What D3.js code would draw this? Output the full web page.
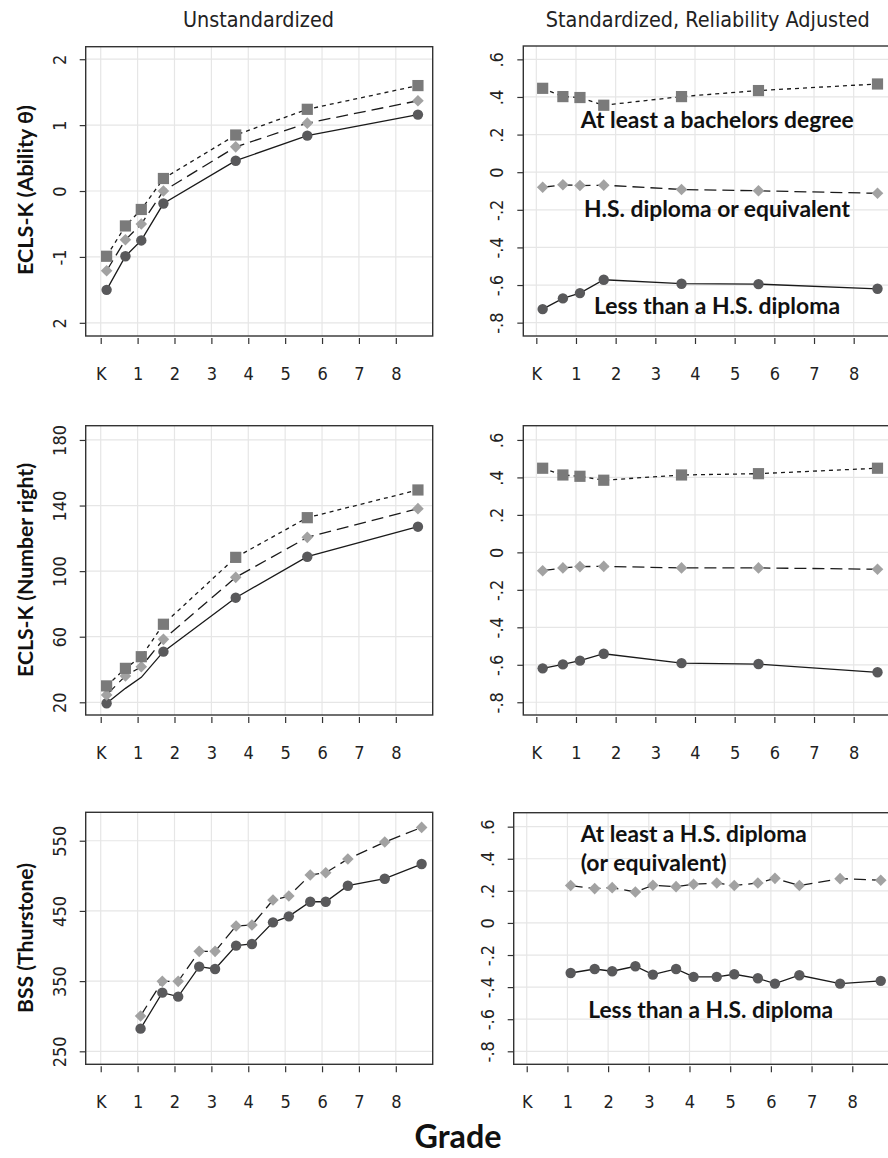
<!DOCTYPE html>
<html>
<head>
<meta charset="utf-8">
<script src="https://cdn.jsdelivr.net/npm/d3@7"></script>
<style>
  body { margin: 0; background: #fff; }
  svg { display: block; }
</style>
</head>
<body>
<div id="chart"></div>
<script>
// grades at which the ECLS-K waves were measured (K = 0)
const gradesECLS = [0.16, 0.67, 1.1, 1.7, 3.66, 5.6, 8.6];
const gradesBSS = [1.08, 1.67, 2.1, 2.67, 3.1, 3.67, 4.1, 4.67, 5.1, 5.68, 6.1, 6.7, 7.7, 8.7];
const gradeTicks = [0, 1, 2, 3, 4, 5, 6, 7, 8];
const gradeLabels = ['K', '1', '2', '3', '4', '5', '6', '7', '8'];

// ECLS-K ability theta, unstandardized
const abilLess = [-1.50, -0.99, -0.75, -0.19, 0.46, 0.84, 1.16];
const abilHS = [-1.21, -0.74, -0.50, 0.00, 0.67, 1.03, 1.37];
const abilBA = [-0.99, -0.53, -0.28, 0.19, 0.85, 1.24, 1.60];
// ECLS-K ability theta, standardized
const abilStdLess = [-0.728, -0.671, -0.643, -0.572, -0.593, -0.595, -0.620];
const abilStdHS = [-0.080, -0.067, -0.071, -0.069, -0.092, -0.099, -0.112];
const abilStdBA = [0.446, 0.402, 0.397, 0.356, 0.402, 0.434, 0.469];

// ECLS-K number right
const numLess = [19.4, 28.5, 35.2, 50.9, 83.8, 108.8, 127.1];
const numLessMarked = [true, false, false, true, true, true, true];
const numHS = [24.5, 36.1, 41.7, 58.4, 96.2, 120.6, 138.1];
const numBA = [30.0, 40.7, 47.8, 67.6, 108.4, 132.6, 149.5];
const numStdLess = [-0.619, -0.598, -0.578, -0.541, -0.591, -0.596, -0.640];
const numStdHS = [-0.098, -0.083, -0.076, -0.075, -0.083, -0.083, -0.090];
const numStdBA = [0.449, 0.413, 0.406, 0.385, 0.413, 0.420, 0.449];

// BSS Thurstone scale
const bssLess = [282.3, 333.6, 327.9, 370.6, 367.3, 400.5, 402.9, 433.7, 442.3, 463.1, 463.1, 485.9, 495.9, 516.8];
const bssHS = [300.4, 349.7, 349.7, 392.4, 392.4, 428.5, 429.9, 465.5, 471.2, 501.1, 504.4, 523.9, 548.1, 569.0];
const bssStdLess = [-0.312, -0.287, -0.301, -0.270, -0.322, -0.287, -0.336, -0.336, -0.320, -0.345, -0.378, -0.326, -0.378, -0.361];
const bssStdHS = [0.233, 0.214, 0.220, 0.193, 0.235, 0.226, 0.241, 0.249, 0.233, 0.249, 0.278, 0.233, 0.276, 0.266];

// y tick values / labels
const abilTicks = [2, 1, 0, -1, -2];
const abilTickLabels = ['2', '1', '0', '-1', '2'];
const numTicks = [20, 60, 100, 140, 180];
const bssTicks = [250, 350, 450, 550];
const stdTicks = [0.6, 0.4, 0.2, 0, -0.2, -0.4, -0.6, -0.8];
const stdTickLabels = ['.6', '.4', '.2', '0', '-.2', '-.4', '-.6', '-.8'];

const FONT = '"Liberation Sans Narrow", "DejaVu Sans Condensed", Roboto, sans-serif';
const BOLDFONT = 'Lato, "Open Sans", sans-serif';
const width = 888, height = 1158;

const svg = d3.select('#chart')
  .append('svg')
  .attr('width', width)
  .attr('height', height)
  .style('font-family', FONT);

// marker styles per education group
const styles = {
  less: { shape: 'circle', fill: '#59595b', dash: null },
  hs: { shape: 'diamond', fill: '#a2a2a2', dash: '12,6' },
  ba: { shape: 'square', fill: '#7a7a7a', dash: '4,4' },
};

const makeSeries = (xs, ys, key, marked) =>
  xs.map((g, i) => ({ g, v: ys[i], mark: marked ? marked[i] : true, key }));

const panels = [
  { left: 85.7, right: 432.7, top: 46.7, bottom: 336, xDom: [-0.407, 9.0], yDom: [-2.2, 2.19],
    yTicks: abilTicks, yLabels: abilTickLabels,
    series: [makeSeries(gradesECLS, abilLess, 'less'), makeSeries(gradesECLS, abilHS, 'hs'), makeSeries(gradesECLS, abilBA, 'ba')] },
  { left: 523.3, right: 901.3, top: 46, bottom: 336, xDom: [-0.328, 9.2], yDom: [-0.871, 0.671],
    yTicks: stdTicks, yLabels: stdTickLabels,
    series: [makeSeries(gradesECLS, abilStdLess, 'less'), makeSeries(gradesECLS, abilStdHS, 'hs'), makeSeries(gradesECLS, abilStdBA, 'ba')] },
  { left: 85.7, right: 432.7, top: 425.7, bottom: 715, xDom: [-0.407, 9.0], yDom: [12.25, 188.7],
    yTicks: numTicks, yLabels: numTicks.map(String),
    series: [makeSeries(gradesECLS, numLess, 'less', numLessMarked), makeSeries(gradesECLS, numHS, 'hs'), makeSeries(gradesECLS, numBA, 'ba')] },
  { left: 523.3, right: 901.3, top: 425.7, bottom: 715, xDom: [-0.328, 9.2], yDom: [-0.868, 0.676],
    yTicks: stdTicks, yLabels: stdTickLabels,
    series: [makeSeries(gradesECLS, numStdLess, 'less'), makeSeries(gradesECLS, numStdHS, 'hs'), makeSeries(gradesECLS, numStdBA, 'ba')] },
  { left: 85.7, right: 432.7, top: 812.3, bottom: 1064.3, xDom: [-0.407, 9.0], yDom: [231.5, 590.5],
    yTicks: bssTicks, yLabels: bssTicks.map(String),
    series: [makeSeries(gradesBSS, bssLess, 'less'), makeSeries(gradesBSS, bssHS, 'hs')] },
  { left: 513.7, right: 901.1, top: 812.7, bottom: 1064.3, xDom: [-0.32, 9.2], yDom: [-0.881, 0.687],
    yTicks: stdTicks, yLabels: stdTickLabels,
    series: [makeSeries(gradesBSS, bssStdLess, 'less'), makeSeries(gradesBSS, bssStdHS, 'hs')] },
];

const drawPanel = (p) => {
  const x = d3.scaleLinear().domain(p.xDom).range([p.left, p.right]);
  const y = d3.scaleLinear().domain(p.yDom).range([p.bottom, p.top]);
  const g = svg.append('g');

  // grid
  g.selectAll('line.vgrid')
    .data(gradeTicks)
    .join('line')
    .attr('x1', d => x(d)).attr('x2', d => x(d))
    .attr('y1', p.top).attr('y2', p.bottom)
    .attr('stroke', '#e6e6e6').attr('stroke-width', 1.2);
  g.selectAll('line.hgrid')
    .data(p.yTicks)
    .join('line')
    .attr('x1', p.left).attr('x2', p.right)
    .attr('y1', d => y(d)).attr('y2', d => y(d))
    .attr('stroke', '#e6e6e6').attr('stroke-width', 1.2);

  // y axis
  const yAxis = g.append('g')
    .attr('transform', `translate(${p.left},0)`)
    .call(d3.axisLeft(y).tickValues(p.yTicks).tickSize(6).tickFormat((d, i) => p.yLabels[i]));
  yAxis.select('.domain').remove();
  yAxis.selectAll('.tick line').attr('stroke', '#333').attr('stroke-width', 1.2);
  yAxis.selectAll('.tick text')
    .attr('transform', 'rotate(-90)')
    .attr('x', 0).attr('y', -20).attr('dy', 0)
    .attr('text-anchor', 'middle')
    .style('font-family', FONT)
    .style('font-size', '18px')
    .attr('fill', '#222');

  // x axis
  const xAxis = g.append('g')
    .attr('transform', `translate(0,${p.bottom + 2})`)
    .call(d3.axisBottom(x).tickValues(gradeTicks).tickSize(6).tickFormat((d, i) => gradeLabels[i]));
  xAxis.select('.domain').remove();
  xAxis.selectAll('.tick line').attr('stroke', '#333').attr('stroke-width', 1.2);
  xAxis.selectAll('.tick text')
    .attr('y', 29).attr('dy', '0.71em')
    .style('font-family', FONT)
    .style('font-size', '18px')
    .attr('fill', '#222');

  // frame
  g.append('rect')
    .attr('x', p.left).attr('y', p.top)
    .attr('width', p.right - p.left).attr('height', p.bottom - p.top)
    .attr('fill', 'none').attr('stroke', '#333').attr('stroke-width', 1.4);

  const line = d3.line().x(d => x(d.g)).y(d => y(d.v));

  p.series.forEach((s) => {
    const st = styles[s[0].key];
    g.append('path')
      .datum(s)
      .attr('d', line)
      .attr('fill', 'none')
      .attr('stroke', '#1a1a1a')
      .attr('stroke-width', 1.3)
      .attr('stroke-dasharray', st.dash);

    const pts = s.filter(d => d.mark);
    if (st.shape === 'circle') {
      g.selectAll(null).data(pts).join('circle')
        .attr('cx', d => x(d.g)).attr('cy', d => y(d.v))
        .attr('r', 5.2).attr('fill', st.fill);
    } else if (st.shape === 'square') {
      g.selectAll(null).data(pts).join('rect')
        .attr('x', d => x(d.g) - 5.6).attr('y', d => y(d.v) - 5.6)
        .attr('width', 11.2).attr('height', 11.2).attr('fill', st.fill);
    } else {
      g.selectAll(null).data(pts).join('path')
        .attr('transform', d => `translate(${x(d.g)},${y(d.v)})`)
        .attr('d', 'M0,-5.8L5.8,0L0,5.8L-5.8,0Z')
        .attr('fill', st.fill);
    }
  });
};

panels.forEach(drawPanel);

// texts
const addText = (t, xPos, yPos, opts) => {
  const el = svg.append('text')
    .attr('x', xPos).attr('y', yPos)
    .attr('text-anchor', opts.anchor || 'middle')
    .style('font-family', opts.family || FONT)
    .style('font-size', opts.size + 'px')
    .style('font-weight', opts.weight || 'normal')
    .attr('fill', opts.fill || '#111')
    .text(t);
  if (opts.len) el.attr('textLength', opts.len).attr('lengthAdjust', 'spacingAndGlyphs');
  if (opts.rotate) el.attr('transform', `rotate(-90,${xPos},${yPos})`);
  return el;
};

addText('Unstandardized', 258.5, 26.5, { size: 22, len: 151, fill: '#222' });
addText('Standardized, Reliability Adjusted', 707.8, 26.5, { size: 22, len: 324, fill: '#222' });

const boldOpts = { size: 22, weight: 'bold', family: BOLDFONT };
addText('ECLS-K (Ability \u03b8)', 33, 190, { ...boldOpts, size: 21, len: 170, rotate: true });
addText('ECLS-K (Number right)', 33, 570, { ...boldOpts, size: 21, len: 214, rotate: true });
addText('BSS (Thurstone)', 33, 938, { ...boldOpts, size: 21, len: 150, rotate: true });

addText('At least a bachelors degree', 717.3, 128.3, { ...boldOpts, len: 273 });
addText('H.S. diploma or equivalent', 717, 216.5, { ...boldOpts, len: 266 });
addText('Less than a H.S. diploma', 717, 314, { ...boldOpts, len: 246 });

addText('At least a H.S. diploma', 580.7, 841.7, { ...boldOpts, len: 226, anchor: 'start' });
addText('(or equivalent)', 580.7, 870.5, { ...boldOpts, len: 146, anchor: 'start' });
addText('Less than a H.S. diploma', 710.7, 1018.3, { ...boldOpts, len: 245 });

addText('Grade', 458, 1148, { ...boldOpts, size: 33, len: 87 });
</script>
</body>
</html>
